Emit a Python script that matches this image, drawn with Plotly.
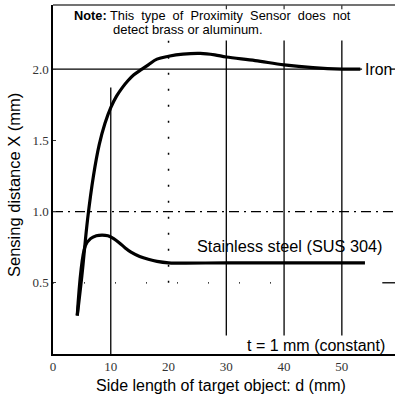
import plotly.graph_objects as go

# Data
iron_d = [4.2, 5.0, 6.0, 7.0, 8.0, 9.0, 10.0, 11.0, 12.0, 13.0, 14.0, 15.4, 16.5, 18.0, 20.0, 22.5, 25.5, 28.0, 30.0, 35.0, 40.0, 45.0, 50.0, 53.2]
iron_x = [0.27, 0.55, 0.95, 1.25, 1.47, 1.62, 1.73, 1.81, 1.87, 1.92, 1.96, 2.00, 2.03, 2.07, 2.09, 2.105, 2.11, 2.10, 2.085, 2.06, 2.03, 2.01, 2.00, 2.00]
sus_d = [4.2, 5.6, 6.5, 7.5, 8.5, 9.5, 10.5, 11.5, 12.5, 13.5, 15.0, 16.5, 18.0, 20.0, 30.0, 40.0, 50.0, 54.0]
sus_x = [0.27, 0.76, 0.81, 0.83, 0.835, 0.83, 0.81, 0.78, 0.745, 0.715, 0.685, 0.665, 0.65, 0.64, 0.64, 0.64, 0.64, 0.64]
x_ticks = [0, 10, 20, 30, 40, 50]
x_ticklabels = ["0", "10", "20", "30", "40", "50"]
y_ticks = [0.5, 1.0, 1.5, 2.0]
y_ticklabels = ["0.5", "1.0", "1.5", "2.0"]

fig = go.Figure()
fig.add_trace(go.Scatter(x=iron_d, y=iron_x, mode="lines", line=dict(color="black", width=3.2, shape="spline"), showlegend=False, hoverinfo="skip"))
fig.add_trace(go.Scatter(x=sus_d, y=sus_x, mode="lines", line=dict(color="black", width=3.2, shape="spline"), showlegend=False, hoverinfo="skip"))

shapes = []
def ln(x0, y0, x1, y1, dash="solid", w=1.3, color="black"):
    shapes.append(dict(type="line", xref="x", yref="y", x0=x0, y0=y0, x1=x1, y1=y1,
                       line=dict(color=color, width=w, dash=dash), layer="below"))

# grid-like lines
ln(10, 0, 10, 1.87)
ln(20, 0.5, 20, 2.2, dash="2px,14px", w=1.5)
for v in [30, 40, 50]:
    ln(v, 0.13, v, 2.2)
ln(0, 2.0, 53.5, 2.0)
ln(0, 1.0, 59.2, 1.0, dash="10px,5px,2px,5px", w=1.3)
ln(0, 0.5, 38, 0.5, dash="1px,30px", w=1.3)
ln(57, 0.5, 59.2, 0.5)
ln(58.3, 2.0, 59.2, 2.0)
# top border and small top ticks
shapes.append(dict(type="line", xref="paper", yref="paper", x0=0, y0=1, x1=1, y1=1, line=dict(color="#444", width=1.5)))
for v in [30, 40, 50]:
    ln(v, 2.45, v, 2.42, w=1)

def px_x(p):
    return (p - 53) / 342

def px_y(p):
    return 1 - (p - 5) / 349

fig.update_layout(
    width=396, height=395,
    margin=dict(l=53, r=1, t=5, b=41),
    paper_bgcolor="white", plot_bgcolor="white",
    shapes=shapes,
    font=dict(family="Liberation Sans, Arial, sans-serif", color="black"),
    xaxis=dict(range=[0, 59.2], tickvals=x_ticks, ticktext=x_ticklabels, showgrid=False, zeroline=False, automargin=False,
               showline=True, linecolor="black", linewidth=1.5, ticks="", tickfont=dict(size=13, color="#333", family="Liberation Serif, serif")),
    yaxis=dict(range=[0, 2.45], tickvals=y_ticks, ticktext=y_ticklabels, showgrid=False, zeroline=False, automargin=False,
               showline=True, linecolor="black", linewidth=1.5, ticks="inside", ticklen=3, tickcolor="#333",
               tickfont=dict(size=13, color="#333", family="Liberation Serif, serif")),
    annotations=[
        dict(text="Side length of target object: d (mm)", xref="paper", yref="paper", x=px_x(221), y=px_y(385),
             xanchor="center", yanchor="middle", showarrow=False, font=dict(size=16)),
        dict(text="Sensing distance X (mm)", xref="paper", yref="paper", x=px_x(14), y=px_y(185), textangle=-90,
             xanchor="center", yanchor="middle", showarrow=False, font=dict(size=16.5)),
        dict(text="<b>Note:</b> This&nbsp; type&nbsp; of&nbsp; Proximity&nbsp; Sensor&nbsp; does&nbsp; not", xref="paper", yref="paper",
             x=px_x(72), y=px_y(15.5), xanchor="left", yanchor="middle", showarrow=False,
             font=dict(size=12.8)),
        dict(text="detect brass or aluminum.", xref="paper", yref="paper",
             x=px_x(111), y=px_y(29.5), xanchor="left", yanchor="middle", showarrow=False,
             font=dict(size=13)),
        dict(text="Iron", x=53.6, y=2.0, xanchor="left", yanchor="middle", showarrow=False, font=dict(size=15.8)),
        dict(text="Stainless steel (SUS 304)", x=57.5, y=0.76, xanchor="right", yanchor="middle", showarrow=False, font=dict(size=16.3)),
        dict(text="t = 1 mm (constant)", x=57.9, y=0.06, xanchor="right", yanchor="middle", showarrow=False, font=dict(size=16)),
    ],
)
fig.write_html("out.html", config={"displayModeBar": False},
               post_script="document.body.style.margin='0';document.body.style.overflow='hidden';")
